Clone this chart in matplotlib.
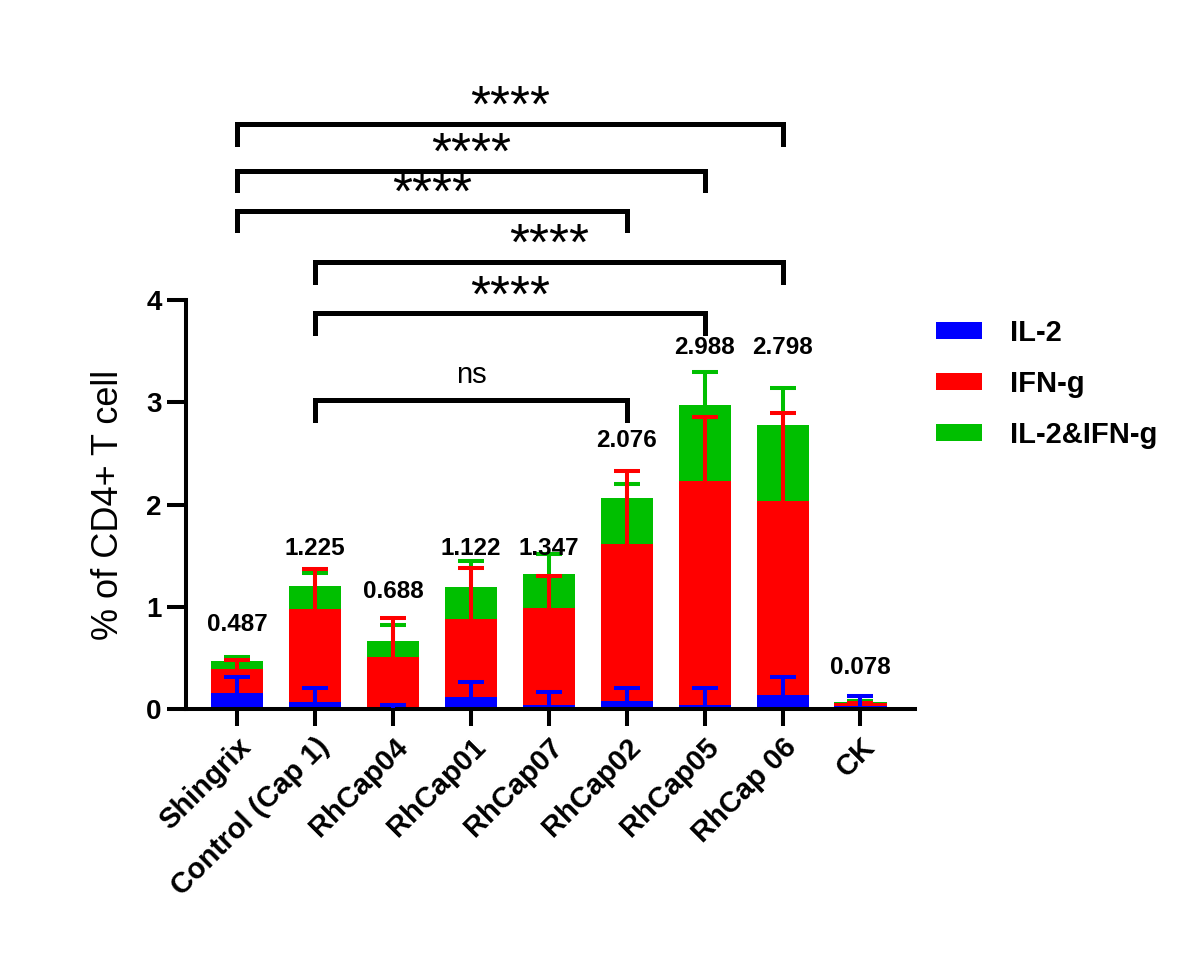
import numpy as np
import matplotlib.pyplot as plt
from matplotlib.patches import Patch

# data
groups = ['Shingrix', 'Control (Cap 1)', 'RhCap04', 'RhCap01', 'RhCap07',
          'RhCap02', 'RhCap05', 'RhCap 06', 'CK']
il2 = [0.153, 0.07, 0.01, 0.114, 0.04, 0.08, 0.04, 0.134, 0.03]
ifng = [0.237, 0.905, 0.50, 0.771, 0.95, 1.53, 2.19, 1.896, 0.025]
both = [0.08, 0.225, 0.16, 0.305, 0.33, 0.45, 0.74, 0.75, 0.015]
il2_err = [0.157, 0.14, 0.03, 0.146, 0.13, 0.13, 0.17, 0.176, 0.097]
ifng_err = [0.088, 0.395, 0.385, 0.495, 0.31, 0.72, 0.63, 0.86, 0.005]
both_err = [0.04, 0.13, 0.15, 0.26, 0.20, 0.14, 0.33, 0.36, 0.01]
totals = ['0.487', '1.225', '0.688', '1.122', '1.347', '2.076', '2.988', '2.798', '0.078']
label_y = [0.83, 1.57, 1.15, 1.57, 1.57, 2.63, 3.54, 3.54, 0.41]

# significance brackets: (group a, group b, height, text)
comparisons = [(0, 7, 5.72, '****'), (0, 6, 5.265, '****'), (0, 5, 4.87, '****'),
               (1, 7, 4.37, '****'), (1, 6, 3.87, '****'), (1, 5, 3.02, 'ns')]

plt.rcParams['font.family'] = ['Liberation Sans', 'DejaVu Sans']
blue, red, green = '#0000FF', '#FF0000', '#00BF00'

fig = plt.figure(figsize=(11.95, 9.64), dpi=100)
ax = fig.add_axes([0.1556, 0.2645, 0.6101, 0.6895])

x = np.arange(len(groups))
w = 0.67
il2 = np.array(il2)
ifng = np.array(ifng)
both = np.array(both)
red_top = il2 + ifng
green_top = red_top + both

ax.bar(x, il2, w, color=blue, zorder=2)
ax.bar(x, ifng, w, bottom=il2, color=red, zorder=2)
ax.bar(x, both, w, bottom=red_top, color=green, zorder=2)


def upper_err(base, err, color, z):
    """Draw only the upper half of an error bar (stem + cap)."""
    ends = base + np.array(err)
    ax.vlines(x, base, ends, color=color, lw=2.9, zorder=z)
    ax.plot(x, ends, ls='none', marker='_', markersize=19, mew=2.9,
            color=color, zorder=z)


upper_err(green_top, both_err, green, 3)
upper_err(red_top, ifng_err, red, 4)
upper_err(il2, il2_err, blue, 5)

# total value labels
for xi, t, yl in zip(x, totals, label_y):
    ax.text(xi, yl, t, ha='center', va='center', fontsize=17.5, fontweight='bold')

# significance brackets
leg = 0.19
for a, b, h, txt in comparisons:
    ax.plot([a, a, b, b], [h - leg, h, h, h - leg], color='black', lw=3.6,
            solid_joinstyle='miter', clip_on=False)
    if txt == 'ns':
        ax.text((a + b) / 2, h + 0.11, txt, ha='center', va='bottom', fontsize=21)
    else:
        ax.text((a + b) / 2, h + 0.02, txt, ha='center', va='baseline', fontsize=37)

# axes formatting
ax.set_xlim(-0.66, 8.70)
ax.set_ylim(0, 6.5)
ax.spines['top'].set_visible(False)
ax.spines['right'].set_visible(False)
ax.spines['left'].set_bounds(0, 4)
ax.spines['left'].set_linewidth(2.9)
ax.spines['bottom'].set_linewidth(2.9)
ax.set_yticks([0, 1, 2, 3, 4])
ax.tick_params(axis='y', length=13.5, width=2.9, labelsize=20, pad=4)
ax.tick_params(axis='x', length=12, width=2.9, labelsize=21, pad=5)
for lab in ax.get_yticklabels():
    lab.set_fontweight('bold')
ax.set_xticks(x)
ax.set_xticklabels(groups, rotation=45, ha='right', rotation_mode='anchor',
                   fontweight='bold')
ax.set_ylabel('% of CD4+ T cell', fontsize=26)
ax.yaxis.set_label_coords(-0.082, 2.0 / 6.5)

handles = [Patch(facecolor=blue), Patch(facecolor=red), Patch(facecolor=green)]
fig.legend(handles, ['IL-2', 'IFN-g', 'IL-2&IFN-g'], loc='center left',
           bbox_to_anchor=(0.783, 0.6017), frameon=False, borderpad=0,
           borderaxespad=0, prop={'size': 21, 'weight': 'bold'},
           handlelength=1.6, handleheight=0.52, handletextpad=0.95,
           labelspacing=0.8)

fig.savefig('out.png', dpi=100)
